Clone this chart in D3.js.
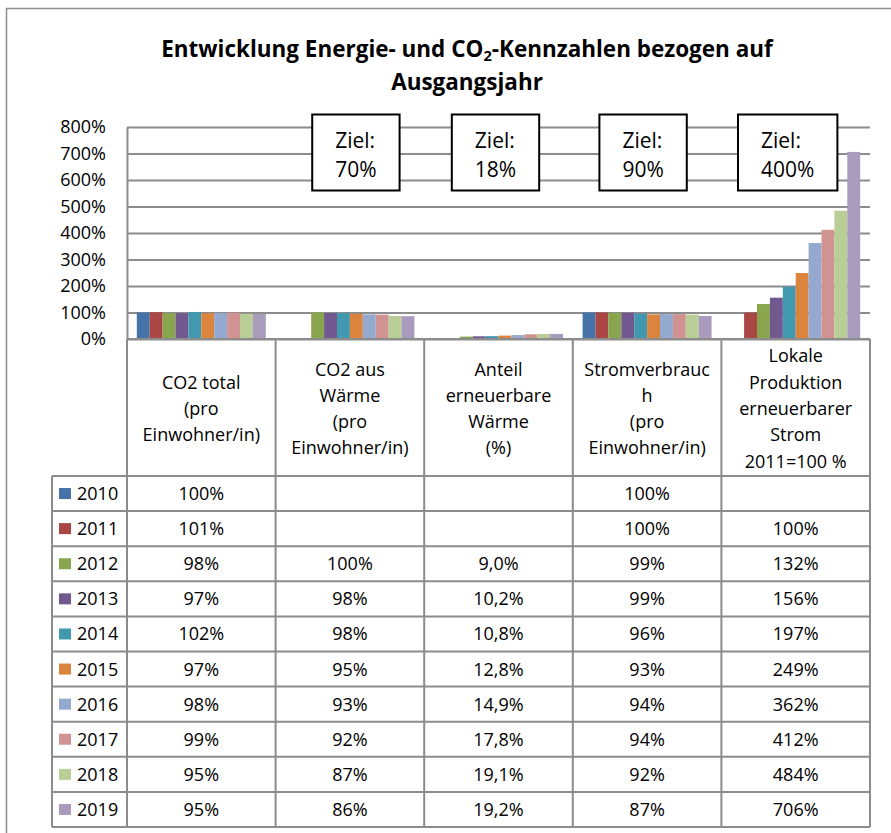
<!DOCTYPE html>
<html>
<head>
<meta charset="utf-8">
<script src="https://cdn.jsdelivr.net/npm/d3@7"></script>
<style>
  body { margin: 0; background: #fff; }
  text { font-family: "Open Sans", sans-serif; fill: #000; }
</style>
</head>
<body>
<script>
// Werte aus der Tabelle (in %), null = kein Wert
const years = ["2010", "2011", "2012", "2013", "2014", "2015", "2016", "2017", "2018", "2019"];
const co2Total = [100, 101, 98, 97, 102, 97, 98, 99, 95, 95];
const co2Waerme = [null, null, 100, 98, 98, 95, 93, 92, 87, 86];
const anteilWaerme = [null, null, 9.0, 10.2, 10.8, 12.8, 14.9, 17.8, 19.1, 19.2];
const stromverbrauch = [100, 100, 99, 99, 96, 93, 94, 94, 92, 87];
const lokaleProduktion = [null, 100, 132, 156, 197, 249, 362, 412, 484, 706];
const columns = [co2Total, co2Waerme, anteilWaerme, stromverbrauch, lokaleProduktion];

const categoryLabels = [
  ["CO2 total", "(pro", "Einwohner/in)"],
  ["CO2 aus", "Wärme", "(pro", "Einwohner/in)"],
  ["Anteil", "erneuerbare", "Wärme", "(%)"],
  ["Stromverbrauc", "h", "(pro", "Einwohner/in)"],
  ["Lokale", "Produktion", "erneuerbarer", "Strom", "2011=100 %"]
];
const yTicks = [0, 100, 200, 300, 400, 500, 600, 700, 800];
const targets = ["70%", "18%", "90%", "400%"];
const targetColumns = [1, 2, 3, 4];

const colors = ["#4572A7", "#AA4643", "#89A54E", "#71588F", "#4198AF",
                "#DB843D", "#93A9CF", "#D19392", "#B9CD96", "#A99BBD"];

const width = 891, height = 833;
const plot = { left: 127, right: 870, top: 127, bottom: 339 };
const headerBottom = 476, rowH = 35.1, legendLeft = 52;
const lineColor = "#8c8c8c";

const svg = d3.select("body").append("svg")
  .attr("width", width)
  .attr("height", height);

// Rahmen
svg.append("rect")
  .attr("x", 6.5).attr("y", 8.5)
  .attr("width", 1000).attr("height", 1000)
  .attr("fill", "#fff")
  .attr("stroke", "#8c8c8c")
  .attr("stroke-width", 1.5);

// Titel
const title = svg.append("text")
  .attr("text-anchor", "middle")
  .style("font-weight", "bold");
const t1 = title.append("tspan").attr("x", 467).attr("y", 57);
t1.append("tspan").text("Entwicklung Energie- und CO");
t1.append("tspan").attr("class", "sub").attr("dy", 4).text("2");
t1.append("tspan").attr("dy", -4).text("-Kennzahlen bezogen auf");
title.append("tspan").attr("x", 467).attr("y", 90).text("Ausgangsjahr");

// Schriftgrösse so wählen, dass die erste Zeile ~612px breit ist
title.style("font-size", "24px");
title.select(".sub").style("font-size", "16px");
const w1 = t1.node().getComputedTextLength();
const fs = 24 * 612 / w1;
title.style("font-size", fs + "px");
title.select(".sub").style("font-size", (fs * 0.65) + "px");

// Skalen
const x0 = d3.scaleBand()
  .domain(d3.range(columns.length))
  .range([plot.left, plot.right]);

const x1 = d3.scaleBand()
  .domain(years)
  .range([0, x0.bandwidth()])
  .paddingInner(0)
  .paddingOuter(0.76);

const y = d3.scaleLinear()
  .domain([0, 800])
  .range([plot.bottom, plot.top]);

const color = d3.scaleOrdinal().domain(years).range(colors);

// Gitter + Achse
const yAxis = svg.append("g")
  .attr("transform", `translate(${plot.left},0)`)
  .call(d3.axisLeft(y)
    .tickValues(yTicks)
    .tickSize(-(plot.right - plot.left))
    .tickSizeOuter(0)
    .tickPadding(21)
    .tickFormat(d => d + "%"));
yAxis.select(".domain").attr("stroke", lineColor).attr("stroke-width", 2);
yAxis.selectAll(".tick line").attr("stroke", lineColor).attr("stroke-width", 2);
yAxis.selectAll(".tick text")
  .style("font-family", "'Open Sans', sans-serif")
  .style("font-size", "18px")
  .attr("fill", "#000");

// Zielboxen
const boxDx = [6, -3, -4, -8];
targets.forEach((t, i) => {
  const c = targetColumns[i];
  const cx = x0(c) + x0.bandwidth() / 2 + boxDx[i];
  const g = svg.append("g");
  const tz = g.append("text").attr("y", 148).style("font-size", "21px").text("Ziel:");
  const tv = g.append("text").attr("y", 177).style("font-size", "21px").text(t);
  const tw = Math.max(tz.node().getComputedTextLength(), tv.node().getComputedTextLength());
  const bw = Math.max(84, tw + 46);
  g.insert("rect", "text")
    .attr("x", cx - bw / 2).attr("y", 114.5)
    .attr("width", bw).attr("height", 76)
    .attr("fill", "#fff")
    .attr("stroke", "#000")
    .attr("stroke-width", 2);
  tz.attr("x", cx - tw / 2);
  tv.attr("x", cx - tw / 2);
});

// Balken
const barData = [];
columns.forEach((col, c) => {
  col.forEach((v, i) => {
    if (v !== null) barData.push({ c, year: years[i], value: v });
  });
});

svg.append("g")
  .selectAll("rect")
  .data(barData)
  .enter()
  .append("rect")
  .attr("x", d => x0(d.c) + x1(d.year))
  .attr("y", d => y(d.value))
  .attr("width", x1.bandwidth())
  .attr("height", d => y(0) - y(d.value))
  .attr("fill", d => color(d.year));

// Tabelle
const table = svg.append("g");
const tableBottom = headerBottom + rowH * years.length;

table.append("line")
  .attr("x1", plot.left).attr("x2", plot.right)
  .attr("y1", plot.bottom).attr("y2", plot.bottom)
  .attr("stroke", lineColor).attr("stroke-width", 2);

d3.range(years.length + 1).forEach(k => {
  table.append("line")
    .attr("x1", legendLeft).attr("x2", plot.right)
    .attr("y1", headerBottom + k * rowH).attr("y2", headerBottom + k * rowH)
    .attr("stroke", lineColor).attr("stroke-width", 2);
});

const vx = x0.domain().map(c => x0(c)).concat([plot.right]);
vx.forEach(xv => {
  table.append("line")
    .attr("x1", xv).attr("x2", xv)
    .attr("y1", plot.bottom).attr("y2", tableBottom)
    .attr("stroke", lineColor).attr("stroke-width", 2);
});
table.append("line")
  .attr("x1", legendLeft).attr("x2", legendLeft)
  .attr("y1", headerBottom).attr("y2", tableBottom)
  .attr("stroke", lineColor).attr("stroke-width", 2);

// Kopfzeile
const headerMid = (plot.bottom + headerBottom) / 2 + 1;
const lineH = 26.3;
categoryLabels.forEach((lines, c) => {
  const cx = x0(c) + x0.bandwidth() / 2;
  const t = table.append("text")
    .attr("text-anchor", "middle")
    .style("font-size", "18px");
  lines.forEach((l, j) => {
    t.append("tspan")
      .attr("x", cx)
      .attr("y", headerMid + (j - (lines.length - 1) / 2) * lineH + 6.5)
      .text(l);
  });
});

// Legende + Werte
const fmtInt = d => Math.round(d) + "%";
const fmtDec = d => d.toFixed(1).replace(".", ",") + "%";

years.forEach((yr, i) => {
  const cy = headerBottom + i * rowH + rowH / 2;
  table.append("rect")
    .attr("x", 59).attr("y", cy - 5.5)
    .attr("width", 12).attr("height", 11)
    .attr("fill", color(yr));
  table.append("text")
    .attr("x", 77).attr("y", cy + 6.5)
    .style("font-size", "18px")
    .text(yr);
  columns.forEach((col, c) => {
    const v = col[i];
    if (v === null) return;
    table.append("text")
      .attr("x", x0(c) + x0.bandwidth() / 2)
      .attr("y", cy + 6.5)
      .attr("text-anchor", "middle")
      .style("font-size", "18px")
      .text(c === 2 ? fmtDec(v) : fmtInt(v));
  });
});
</script>
</body>
</html>
